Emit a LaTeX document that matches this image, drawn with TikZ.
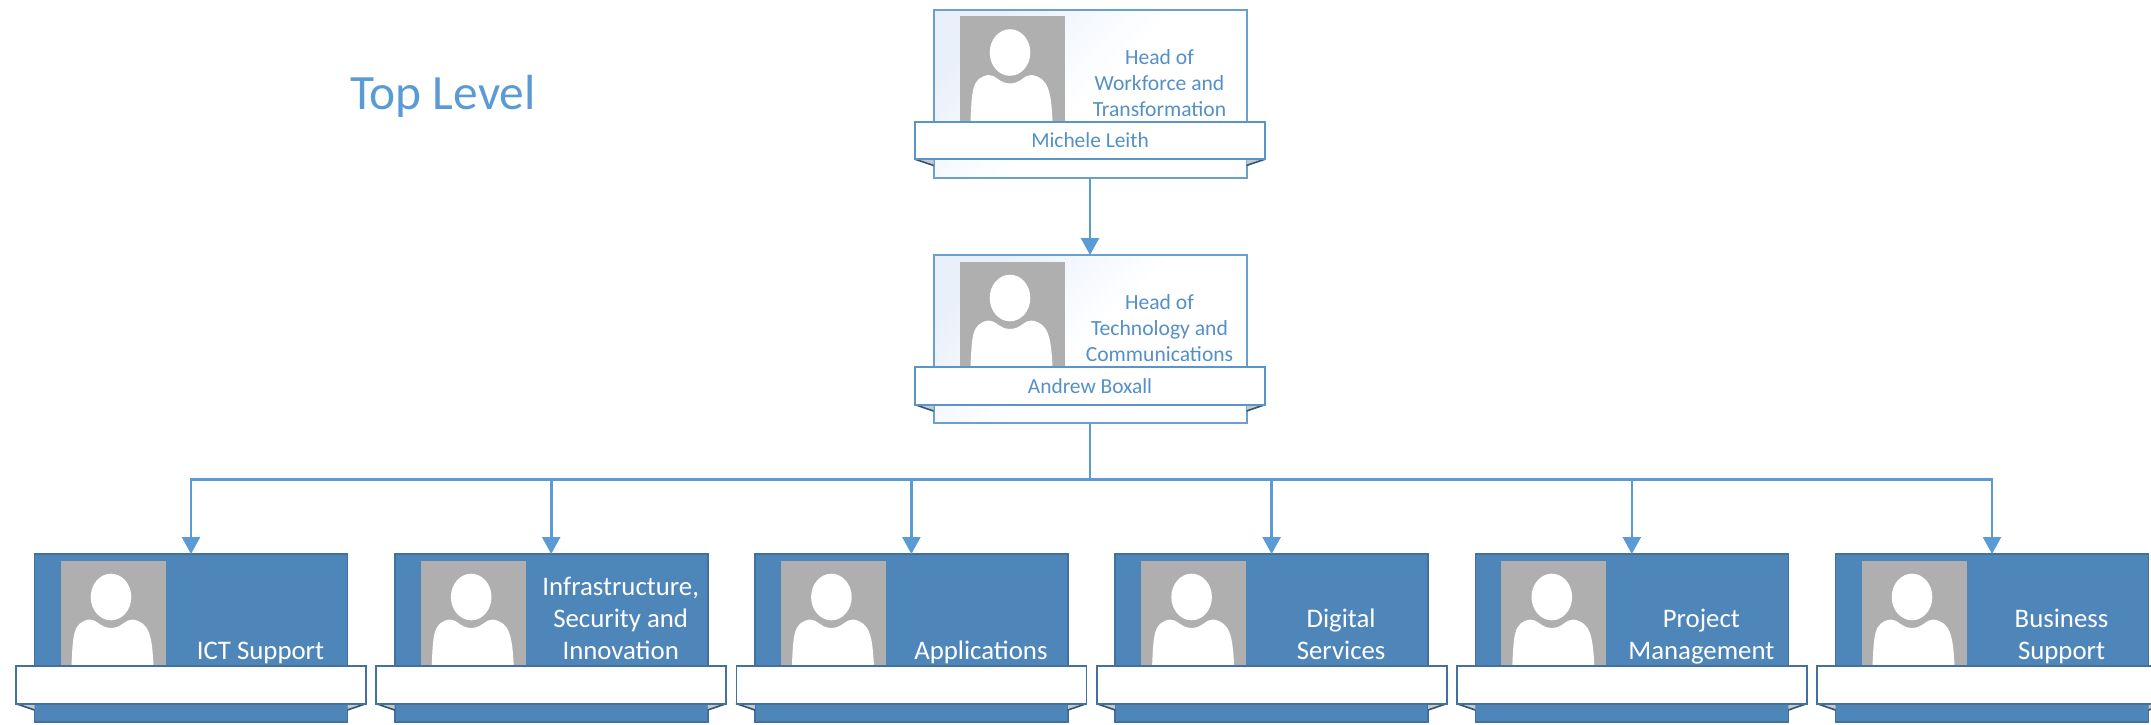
\documentclass[tikz,border=0pt]{standalone}
\usepackage{fontspec}
\setmainfont{Carlito}
\usetikzlibrary{arrows.meta,shapes.geometric,calc}
\definecolor{linkblue}{HTML}{5B9BD5}
\definecolor{lightedge}{HTML}{6A9FD0}
\definecolor{bannerblue}{HTML}{5A94C8}
\definecolor{darkfill}{HTML}{4F86BA}
\definecolor{darkedge}{HTML}{41719C}
\definecolor{foldline}{HTML}{2F5578}
\definecolor{foldfill}{HTML}{C8C8C8}
\definecolor{photogrey}{HTML}{AFAFAF}
\definecolor{tintblue}{HTML}{EAF0FA}
\definecolor{labelblue}{HTML}{5490C8}
\tikzset{
  x=0.5pt,y=-0.5pt,
  cardbase/.style={rectangle,outer sep=0pt,inner sep=0pt,anchor=north west,minimum width=156.5pt,minimum height=84pt},
  lightcard/.style={cardbase,draw=lightedge,line width=1pt,top color=tintblue,bottom color=white,middle color=white,shading angle=45},
  darkcard/.style={cardbase,draw=darkedge,line width=0.8pt,fill=darkfill},
  photo/.style={rectangle,fill=photogrey,outer sep=0pt,inner sep=0pt,anchor=north west,minimum width=52.5pt,minimum height=52.5pt},
  bannerbase/.style={rectangle,fill=white,outer sep=0pt,inner sep=0pt,minimum width=175pt,minimum height=18.75pt,font=\fontsize{10.7}{13}\selectfont,text=labelblue},
  lightbanner/.style={bannerbase,draw=bannerblue,line width=0.9pt},
  darkbanner/.style={bannerbase,draw=darkedge,line width=0.9pt},
  lighttitle/.style={font=\fontsize{10.8}{13}\selectfont,text=labelblue,align=center,inner sep=0pt,outer sep=0pt,anchor=base},
  darktitle/.style={font=\fontsize{13.4}{16}\selectfont,text=white,align=center,inner sep=0pt,outer sep=0pt,anchor=base},
  conn/.style={draw=linkblue,line width=1.3pt},
  connarrow/.style={conn,-{Triangle[length=8.5pt,width=9pt]}},
  heading/.style={font=\fontsize{24.7}{30}\selectfont,text=linkblue,inner sep=0pt}
}
% id, x, y, card style, banner style, title style, title baseline offset, title, banner text
\newcommand{\orgcard}[9]{%
  \node[#4] (#1) at (#2,#3) {};
  \node[photo] (#1photo) at ($(#2,#3)+(26,6.5)$) {};
  \fill[white] ($(#2,#3)+(37,111.5)$) .. controls ($(#2,#3)+(38.5,82)$) and ($(#2,#3)+(38,68)$) .. ($(#2,#3)+(55,65.5)$)
     .. controls ($(#2,#3)+(62,65)$) and ($(#2,#3)+(66,74)$) .. ($(#2,#3)+(76.5,74)$)
     .. controls ($(#2,#3)+(87,74)$) and ($(#2,#3)+(91,65)$) .. ($(#2,#3)+(98,65.5)$)
     .. controls ($(#2,#3)+(115,68)$) and ($(#2,#3)+(117.5,82)$) .. ($(#2,#3)+(119,111.5)$) -- cycle;
  \fill[white] ($(#2,#3)+(76.5,43)$) ellipse [x radius=20.3,y radius=23.3];
  \node[#6] (#1title) at ($(#2,#3)+(226,#7)$) {#8};
  \fill[foldfill] ($(#2,#3)+(-19,149.5)$) -- ($(#2,#3)+(0,156)$) -- ($(#2,#3)+(0,149.5)$) -- cycle;
  \fill[foldfill] ($(#2,#3)+(332,149.5)$) -- ($(#2,#3)+(313,156)$) -- ($(#2,#3)+(313,149.5)$) -- cycle;
  \draw[foldline,line width=0.8pt] ($(#2,#3)+(-19,149.5)$) -- ($(#2,#3)+(0,156)$);
  \draw[foldline,line width=0.8pt] ($(#2,#3)+(332,149.5)$) -- ($(#2,#3)+(313,156)$);
  \node[#5] (#1banner) at ($(#2,#3)+(156.5,131)$) {#9};
}
\begin{document}
\begin{tikzpicture}
\useasboundingbox (0,0) rectangle (2151,724);
\node[heading] (level) at (443,96) {Top Level};
\orgcard{head}{933.5}{9.5}{lightcard}{lightbanner}{lighttitle}{106.5}{Head of\\Workforce and\\Transformation}{Michele Leith}
\orgcard{mgr}{933.5}{255}{lightcard}{lightbanner}{lighttitle}{106.5}{Head of\\Technology and\\Communications}{Andrew Boxall}
\orgcard{a}{34.5}{554}{darkcard}{darkbanner}{darktitle}{105.5}{ICT Support}{}
\orgcard{b}{394.7}{554}{darkcard}{darkbanner}{darktitle}{105.5}{Infrastructure,\\Security and\\Innovation}{}
\orgcard{c}{754.9}{554}{darkcard}{darkbanner}{darktitle}{105.5}{Applications}{}
\orgcard{d}{1115.1}{554}{darkcard}{darkbanner}{darktitle}{105.5}{Digital\\Services}{}
\orgcard{e}{1475.3}{554}{darkcard}{darkbanner}{darktitle}{105.5}{Project\\Management}{}
\orgcard{f}{1835.5}{554}{darkcard}{darkbanner}{darktitle}{105.5}{Business\\Support}{}
\coordinate (bus) at (0,479.5);
\draw[connarrow] (head.south) -- (mgr.north);
\foreach \t in {a,b,c,d,e,f}{
  \draw[connarrow] (mgr.south) -- (mgr.south |- bus) -| (\t.north);
}
\end{tikzpicture}
\end{document}
